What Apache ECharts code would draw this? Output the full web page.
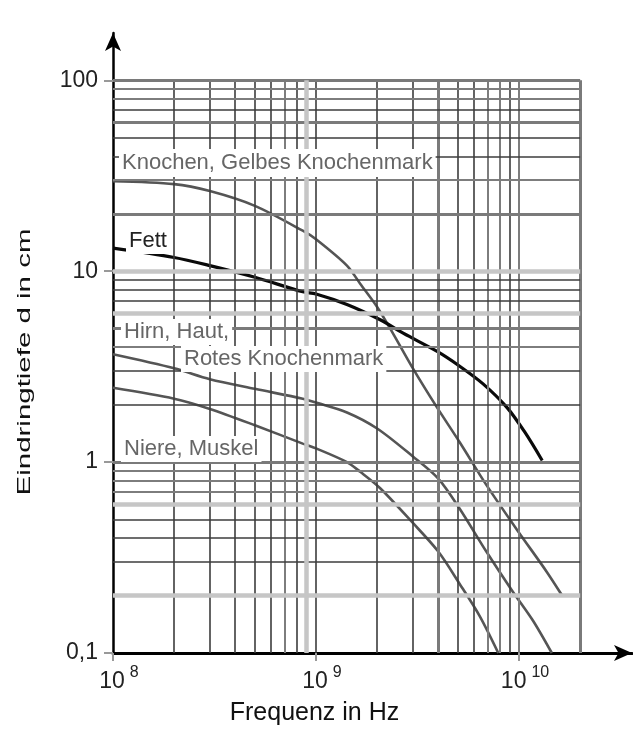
<!DOCTYPE html>
<html>
<head>
<meta charset="utf-8">
<script src="https://cdn.jsdelivr.net/npm/echarts@6/dist/echarts.min.js"></script>
<style>
html, body { margin: 0; padding: 0; background: #fff; }
#main { width: 633px; height: 731px; }
</style>
</head>
<body>
<div id="main"></div>
<script>
// Eindringtiefe (cm) ueber Frequenz (Hz)
const knochenFreq = [1e8, 2e8, 3e8, 5e8, 8.6e8, 1e9, 1.42e9, 1.65e9, 2e9, 2.4e9, 3e9, 3.9e9, 5.1e9, 6.9e9, 9.8e9, 1.37e10, 1.63e10]
const knochenDepth = [29.6, 28.6, 26.3, 22, 16.3, 14.7, 10.7, 8.6, 6.5, 4.7, 3.1, 1.97, 1.27, 0.76, 0.44, 0.266, 0.2]

const fettFreq = [1e8, 2e8, 3e8, 5e8, 8.6e8, 1e9, 1.42e9, 2.07e9, 2.7e9, 3.95e9, 5.1e9, 6.65e9, 8.73e9, 1.07e10, 1.3e10]
const fettDepth = [13.2, 11.8, 10.7, 9.3, 7.8, 7.6, 6.7, 5.57, 4.72, 3.8, 3.18, 2.57, 1.93, 1.43, 1.02]

const hirnFreq = [1e8, 2e8, 3e8, 5e8, 8.6e8, 1e9, 1.42e9, 2e9, 3e9, 4e9, 5.1e9, 6.9e9, 9.3e9, 1.17e10, 1.45e10]
const hirnDepth = [3.67, 3.1, 2.72, 2.42, 2.15, 2.05, 1.82, 1.5, 1.07, 0.82, 0.57, 0.34, 0.21, 0.148, 0.1]

const niereFreq = [1e8, 2e8, 3e8, 5e8, 8.6e8, 1e9, 1.42e9, 1.65e9, 2.07e9, 3e9, 4e9, 5.1e9, 6.4e9, 7.9e9]
const niereDepth = [2.45, 2.15, 1.9, 1.56, 1.25, 1.18, 1.0, 0.89, 0.73, 0.48, 0.34, 0.23, 0.156, 0.1]

// Achsen / Gitter
const xTickValues = [1e8, 1e9, 1e10]
const yTickValues = [0.1, 1, 10, 100]
const xGridValues = [2e8, 3e8, 4e8, 5e8, 6e8, 7e8, 8e8, 9e8, 1e9, 2e9, 3e9, 4e9, 5e9, 6e9, 7e9, 8e9, 9e9, 1e10, 2e10]
const yGridValues = [0.2, 0.3, 0.4, 0.5, 0.6, 0.7, 0.8, 0.9, 1, 2, 3, 4, 5, 6, 7, 8, 9, 10, 20, 30, 40, 50, 60, 70, 80, 90, 100]

const font = 'Liberation Sans, Arial, Helvetica, sans-serif'

// Strichart der Gitterlinien (Scan: teils dunkel, teils hellgrau und breit)
const lineKinds = {
    dark: { color: '#3d3d3d', width: 1.6 },
    mid: { color: '#7d7d7d', width: 2 },
    thick: { color: '#7a7a7a', width: 3 },
    light: { color: '#c6c6c6', width: 4.5 },
}
const xKind = {
    7e8: 'mid', 9e8: 'light', 4e9: 'thick', 7e9: 'mid', 8e9: 'mid', 1e10: 'mid', 2e10: 'thick',
}
const yKind = {
    0.2: 'light', 0.6: 'light', 0.7: 'mid', 0.8: 'mid', 0.9: 'mid', 1: 'thick', 4: 'mid', 5: 'thick', 6: 'light',
    10: 'light', 20: 'thick', 30: 'mid', 60: 'thick', 80: 'mid', 90: 'mid', 100: 'thick',
}
const overlayLines = [9e8] // liegt im Original ueber den Kurven

const xMin = 1e8
const xGridMax = 2e10
const yMin = 0.1
const yGridMax = 100

function vLine(v) {
    const k = lineKinds[xKind[v] || 'dark']
    return [{ coord: [v, yMin], lineStyle: { color: k.color, width: k.width, type: 'solid' } }, { coord: [v, yGridMax] }]
}
function hLine(v) {
    const k = lineKinds[yKind[v] || 'dark']
    return [{ coord: [xMin, v], lineStyle: { color: k.color, width: k.width, type: 'solid' } }, { coord: [xGridMax, v] }]
}
const zip = (a, b) => a.map((f, i) => [f, b[i]])

const gridMarks = {
    silent: true,
    symbol: ['none', 'none'],
    label: { show: false },
    emphasis: { disabled: true },
    animation: false,
}

function curve(name, freq, depth, color, width) {
    return {
        type: 'line',
        name: name,
        data: zip(freq, depth),
        smooth: 0.3,
        showSymbol: false,
        z: 3,
        lineStyle: { color: color, width: width },
    }
}

const myChart = echarts.init(document.getElementById('main'))

const option = {
    animation: false,
    backgroundColor: '#fff',
    grid: { left: 113, right: 1, top: 33, bottom: 71 },
    xAxis: {
        type: 'log',
        logBase: 10,
        min: xMin,
        max: 3.6e10,
        splitLine: { show: false },
        axisLine: {
            onZero: false,
            symbol: ['none', 'arrow'],
            symbolSize: [12, 18],
            lineStyle: { color: '#000', width: 3 },
        },
        axisTick: { customValues: xTickValues, length: 8, lineStyle: { color: '#999', width: 2 } },
        axisLabel: {
            customValues: xTickValues,
            margin: 12,
            padding: [0, 0, 0, 12],
            formatter: (v) => '{b|10}{s|' + Math.round(Math.log10(v)) + '}',
            rich: {
                b: { fontSize: 23, lineHeight: 28, verticalAlign: 'bottom', color: '#222', fontFamily: font },
                s: { fontSize: 16, lineHeight: 14, verticalAlign: 'top', color: '#222', fontFamily: font, padding: [0, 0, 0, 5] },
            },
        },
        name: 'Frequenz in Hz',
        nameLocation: 'middle',
        nameGap: 48,
        nameTextStyle: { fontSize: 25, color: '#111', fontFamily: font, padding: [0, 116, 0, 0] },
    },
    yAxis: {
        type: 'log',
        logBase: 10,
        min: yMin,
        max: 177,
        splitLine: { show: false },
        axisLine: {
            onZero: false,
            symbol: ['none', 'arrow'],
            symbolSize: [12, 18],
            lineStyle: { color: '#000', width: 2.5 },
        },
        axisTick: { customValues: yTickValues, length: 9, lineStyle: { color: '#999', width: 2 } },
        axisLabel: {
            customValues: yTickValues,
            margin: 15,
            fontSize: 23,
            color: '#222',
            fontFamily: font,
            formatter: (v) => String(v).replace('.', ','),
        },
    },
    series: [
        {
            type: 'line',
            name: 'gitter',
            data: [],
            silent: true,
            z: 1,
            markLine: Object.assign({}, gridMarks, {
                data: xGridValues.filter((v) => overlayLines.indexOf(v) < 0).map(vLine).concat(yGridValues.map(hLine)),
            }),
        },
        curve('Knochen', knochenFreq, knochenDepth, '#555', 2.6),
        curve('Fett', fettFreq, fettDepth, '#0a0a0a', 3.2),
        curve('Hirn', hirnFreq, hirnDepth, '#555', 2.6),
        curve('Niere', niereFreq, niereDepth, '#555', 2.6),
        {
            type: 'line',
            name: 'gitter2',
            data: [],
            silent: true,
            z: 5,
            markLine: Object.assign({}, gridMarks, { data: overlayLines.map(vLine) }),
        },
    ],
    graphic: [
        {
            type: 'text', x: 119, y: 163, z: 100,
            style: { text: 'Knochen, Gelbes Knochenmark', font: '22px ' + font, fill: '#666', backgroundColor: '#fff', padding: [3, 3], verticalAlign: 'middle' },
        },
        {
            type: 'text', x: 126, y: 241, z: 100,
            style: { text: 'Fett', font: '22px ' + font, fill: '#222', backgroundColor: '#fff', padding: [2, 3], verticalAlign: 'middle' },
        },
        {
            type: 'text', x: 121, y: 332, z: 100,
            style: { text: 'Hirn, Haut,', font: '22px ' + font, fill: '#666', backgroundColor: '#fff', padding: [2, 3], verticalAlign: 'middle' },
        },
        {
            type: 'text', x: 181, y: 359, z: 100,
            style: { text: 'Rotes Knochenmark', font: '22px ' + font, fill: '#666', backgroundColor: '#fff', padding: [2, 3], verticalAlign: 'middle' },
        },
        {
            type: 'text', x: 121, y: 449, z: 100,
            style: { text: 'Niere, Muskel', font: '22px ' + font, fill: '#666', backgroundColor: '#fff', padding: [2, 3], verticalAlign: 'middle' },
        },
        {
            type: 'text', x: 25, y: 362, rotation: Math.PI / 2, scaleX: 1.55, z: 100,
            style: { text: 'Eindringtiefe d in cm', font: '19px ' + font, fill: '#111', align: 'center', verticalAlign: 'middle' },
        },
    ],
}

myChart.setOption(option)
</script>
</body>
</html>
